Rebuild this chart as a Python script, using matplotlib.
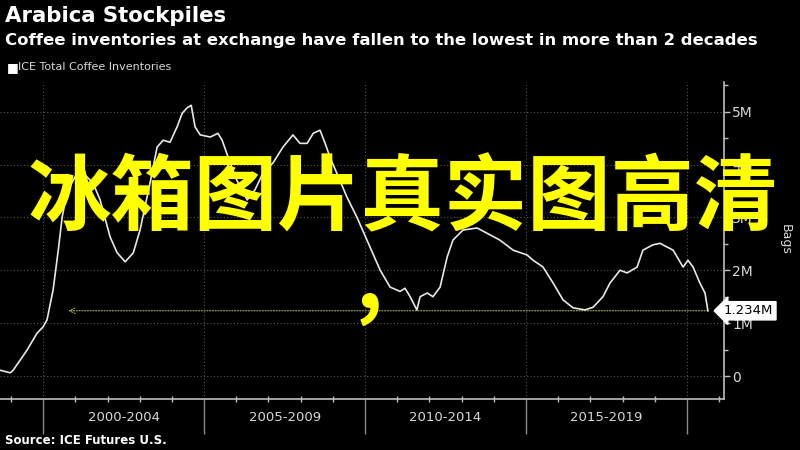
import matplotlib
matplotlib.use("Agg")
import matplotlib.pyplot as plt
import matplotlib.transforms as mtransforms
from matplotlib.ticker import FixedLocator, MultipleLocator

# ICE total coffee inventories (million bags)
years = [1998.66, 1998.98, 1999.07, 1999.50, 1999.81, 2000.00, 2000.12, 2000.31,
         2000.47, 2000.59, 2000.75, 2001.06, 2001.24, 2001.55, 2001.77, 2002.08,
         2002.30, 2002.55, 2002.80, 2003.01, 2003.32, 2003.54, 2003.73, 2003.94,
         2004.16, 2004.32, 2004.47, 2004.60, 2004.72, 2004.88, 2005.19, 2005.43,
         2005.56, 2005.81, 2006.02, 2006.34, 2006.58, 2006.83, 2007.14, 2007.45,
         2007.76, 2007.98, 2008.20, 2008.39, 2008.60, 2008.76, 2008.91, 2009.44,
         2009.75, 2010.06, 2010.47, 2010.78, 2011.09, 2011.24, 2011.40, 2011.61,
         2011.71, 2011.93, 2012.11, 2012.33, 2012.55, 2012.73, 2013.04, 2013.48,
         2013.79, 2014.19, 2014.60, 2015.03, 2015.22, 2015.53, 2015.84, 2016.15,
         2016.46, 2016.83, 2017.08, 2017.39, 2017.61, 2017.92, 2018.14, 2018.45,
         2018.63, 2018.94, 2019.16, 2019.57, 2019.88, 2020.03, 2020.19, 2020.40,
         2020.56, 2020.65]
bags_m = [0.11, 0.06, 0.11, 0.49, 0.81, 0.93, 1.06, 1.63,
          2.38, 3.00, 3.50, 3.84, 3.84, 3.65, 3.33, 2.63,
          2.33, 2.16, 2.33, 2.76, 3.65, 4.33, 4.46, 4.42,
          4.71, 4.97, 5.07, 5.12, 4.71, 4.56, 4.52, 4.59,
          4.46, 4.03, 3.70, 3.33, 3.52, 3.84, 4.03, 4.33,
          4.56, 4.40, 4.40, 4.59, 4.65, 4.40, 4.14, 3.38,
          3.00, 2.57, 2.00, 1.68, 1.60, 1.66, 1.50, 1.25,
          1.50, 1.57, 1.50, 1.68, 2.25, 2.57, 2.76, 2.80,
          2.70, 2.57, 2.38, 2.29, 2.19, 2.06, 1.76, 1.44,
          1.29, 1.25, 1.30, 1.50, 1.76, 2.00, 1.95, 2.06,
          2.38, 2.48, 2.51, 2.38, 2.06, 2.19, 2.06, 1.76,
          1.57, 1.234]

last_value = 1.234
arrow_start = 2000.78
period_edges = [2000, 2005, 2010, 2015, 2020]
period_labels = ["2000-2004", "2005-2009", "2010-2014", "2015-2019"]
ytick_vals = [0, 1, 2, 3, 4, 5]
ytick_labels = ["0", "1M", "2M", "3M", "4M", "5M"]

GRID = "#555555"
AXC = "#bdbdbd"
CJK = ["Noto Sans CJK SC", "DejaVu Sans"]

plt.rcParams["font.family"] = ["DejaVu Sans"]

fig = plt.figure(figsize=(8, 4.5), dpi=100, facecolor="black")
ax = fig.add_axes([0.0, 0.1133, 0.905, 0.7044], facecolor="black")

ax.plot(years, bags_m, color="#e8e8e8", lw=1.2, zorder=3)

ax.set_xlim(1998.66, 2021.15)
ax.set_ylim(-0.435, 5.56)

# dotted grid
for y in ytick_vals:
    ax.axhline(y, color=GRID, ls=(0, (1, 2)), lw=0.8, zorder=1)
for x in period_edges:
    ax.axvline(x, color=GRID, ls=(0, (1, 2)), lw=0.8, zorder=1)

# latest value guide line
ax.annotate("", xy=(arrow_start, last_value), xytext=(years[-1], last_value),
            arrowprops=dict(arrowstyle="->", color="#a6b35a", lw=0.8,
                            ls=(0, (1, 1.5)), shrinkA=0, shrinkB=0), zorder=2)

for s in ["left", "top"]:
    ax.spines[s].set_visible(False)
for s in ["right", "bottom"]:
    ax.spines[s].set_color(AXC)
    ax.spines[s].set_linewidth(1.2)

# y axis on the right
ax.yaxis.tick_right()
ax.yaxis.set_major_locator(FixedLocator(ytick_vals))
ax.set_yticklabels(ytick_labels)
ax.yaxis.set_minor_locator(MultipleLocator(0.5))
ax.tick_params(axis="y", which="major", direction="out", length=4, width=1,
               color=AXC, labelcolor="#d8d8d8", labelsize=10, pad=2)
ax.tick_params(axis="y", which="minor", direction="out", length=3, width=1, color=AXC)

# x axis: yearly ticks, long separators between periods
ax.xaxis.set_major_locator(FixedLocator(period_edges))
ax.xaxis.set_minor_locator(FixedLocator(range(1999, 2022)))
ax.tick_params(axis="x", which="major", direction="out", length=25, width=1,
               color="#8a8a8a", labelbottom=False)
ax.tick_params(axis="x", which="minor", direction="inout", length=4, width=1, color=AXC)

trans = mtransforms.blended_transform_factory(ax.transData, ax.transAxes)
for i, lab in enumerate(period_labels):
    mid = (period_edges[i] + period_edges[i + 1]) / 2
    ax.text(mid, -0.057, lab, transform=trans, ha="center", va="center",
            color="#d8d8d8", fontsize=9.5)

# last value tag
ax.text(1.0, last_value, "1.234M",
        transform=mtransforms.blended_transform_factory(ax.transAxes, ax.transData),
        ha="left", va="center", fontsize=9.5, color="black",
        bbox=dict(boxstyle="larrow,pad=0.2", fc="white", ec="white"), zorder=5)

fig.text(0.981, 0.467, "Bags", rotation=270, ha="center", va="center",
         color="#d8d8d8", fontsize=9)

# titles / legend / source
fig.text(0.006, 0.965, "Arabica Stockpiles", color="white", fontsize=15.3,
         fontweight="bold", ha="left", va="center")
fig.text(0.006, 0.91, "Coffee inventories at exchange have fallen to the lowest in more than 2 decades",
         color="white", fontsize=11.85, fontweight="bold", ha="left", va="center")
fig.text(0.009, 0.851, "\u25A0", color="white", fontsize=9, ha="left", va="center")
fig.text(0.022, 0.851, "ICE Total Coffee Inventories", color="#d8d8d8", fontsize=8,
         ha="left", va="center")
fig.text(0.006, 0.022, "Source: ICE Futures U.S.", color="white", fontsize=8.5,
         fontweight="bold", ha="left", va="center")

# overlay text
fig.text(0.503, 0.556, "冰箱图片真实图高清", color="yellow", fontsize=60,
         fontweight="bold", ha="center", va="center", family=CJK)
fig.text(0.462, 0.369, ",", color="yellow", fontsize=60, fontweight="bold",
         ha="center", va="center", family=CJK)

fig.savefig("out.png", dpi=100, facecolor="black")
